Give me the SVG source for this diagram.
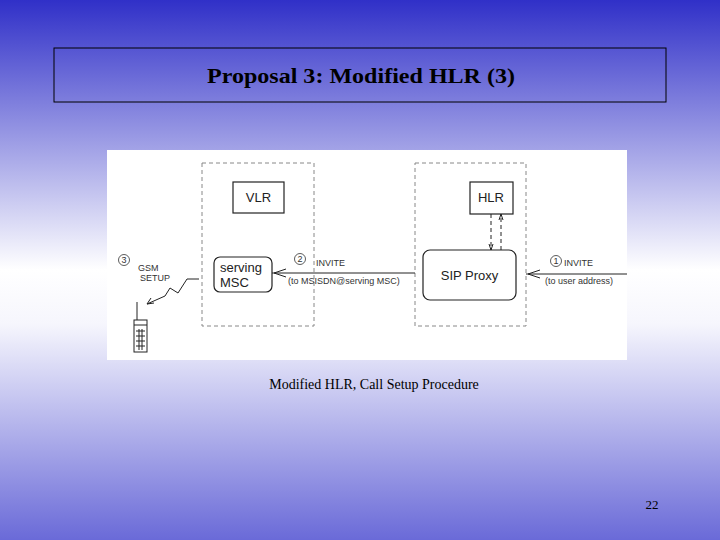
<svg xmlns="http://www.w3.org/2000/svg" width="720" height="540" viewBox="0 0 720 540">
<defs>
<linearGradient id="bg" x1="0" y1="0" x2="0" y2="1">
<stop offset="0" stop-color="#3030c8"/><stop offset="0.5" stop-color="#ffffff"/><stop offset="0.6" stop-color="#f6f6fd"/><stop offset="1" stop-color="#6a6ad8"/>
</linearGradient>
<style>
.box{fill:#fff;stroke:#222;stroke-width:1.2}
.dash{fill:none;stroke:#888;stroke-width:1;stroke-dasharray:4,3}
.t{font-family:"Liberation Sans",Arial,sans-serif;fill:#222}
.s{font-family:"Liberation Sans",Arial,sans-serif;font-size:9px;fill:#333}
.ln{stroke:#222;stroke-width:1;fill:none}
</style>
</defs>
<rect width="720" height="540" fill="url(#bg)"/>
<g id="title"><rect x="54" y="48" width="612" height="54" fill="none" stroke="#000" stroke-width="1"/>
<text x="207" y="83" textLength="308" lengthAdjust="spacingAndGlyphs" font-family="Liberation Serif,serif" font-weight="bold" font-size="21">Proposal 3: Modified HLR (3)</text></g>
<rect x="107" y="150" width="520" height="210" fill="#fff"/>
<rect x="202" y="163" width="112" height="163" class="dash"/>
<rect x="415" y="163" width="111" height="163" class="dash"/>
<g id="vlr"><rect x="233" y="182" width="51" height="31" class="box"/><text x="258.5" y="202" text-anchor="middle" class="t" font-size="13">VLR</text></g>
<g id="hlr"><rect x="470" y="182" width="43" height="32" class="box"/><text x="491" y="202" text-anchor="middle" class="t" font-size="13">HLR</text></g>
<g id="sip"><rect x="423" y="250" width="93" height="50" rx="7" class="box"/><text x="469.5" y="280" text-anchor="middle" class="t" font-size="13">SIP Proxy</text></g>
<g id="msc"><rect x="214" y="257" width="58" height="35" rx="6" class="box"/><text x="220" y="272" class="t" font-size="13">serving</text><text x="220" y="287" class="t" font-size="13">MSC</text></g>
<g id="phone"><line x1="137" y1="302" x2="137" y2="320" class="ln"/><rect x="134" y="320" width="13" height="32" fill="#fff" stroke="#222"/><line x1="134" y1="325" x2="147" y2="325" class="ln"/><path d="M136,331h9M136,336h9M136,341h9M136,346h9M139,329v21M142,329v21" class="ln" stroke-width="0.8"/></g>
<g id="connectors">
<line x1="415" y1="273" x2="272" y2="273" class="ln"/>
<line x1="627" y1="274" x2="526" y2="274" class="ln"/>
<path d="M274,273 l12,-4 M274,273 l12,4" class="ln"/>
<path d="M528,274 l12,-4 M528,274 l12,4" class="ln"/>
<line x1="491" y1="214" x2="491" y2="250" class="ln" stroke-dasharray="4,3"/>
<line x1="501" y1="250" x2="501" y2="214" class="ln" stroke-dasharray="4,3"/>
<path d="M489,244 l2,6 l2,-6 M499,220 l2,-6 l2,6" class="ln"/>
<path d="M199,279 H187 L178,293 L170,288 L165,296 L147,304" class="ln"/>
<path d="M147,304 l4,-6 M147,304 l7,-1" class="ln"/>
</g>
<g id="labels">
<circle cx="124" cy="260" r="5.5" fill="none" stroke="#333" stroke-width="0.8"/><text x="124" y="263" text-anchor="middle" class="s" font-size="8">3</text>
<circle cx="300" cy="259" r="5.5" fill="none" stroke="#333" stroke-width="0.8"/><text x="300" y="262" text-anchor="middle" class="s" font-size="8">2</text>
<circle cx="556" cy="261" r="5.5" fill="none" stroke="#333" stroke-width="0.8"/><text x="556" y="264" text-anchor="middle" class="s" font-size="8">1</text>
<text x="138" y="271" class="s">GSM</text><text x="140" y="281" class="s">SETUP</text>
<text x="316" y="266" class="s">INVITE</text>
<text x="288" y="284" class="s">(to MSISDN@serving MSC)</text>
<text x="564" y="266" class="s">INVITE</text>
<text x="545" y="284" class="s">(to user address)</text>
</g>
<text x="374" y="389" text-anchor="middle" font-family="Liberation Serif,serif" font-size="14">Modified HLR, Call Setup Procedure</text>
<text x="652" y="509" text-anchor="middle" font-family="Liberation Serif,serif" font-size="13">22</text>
</svg>
